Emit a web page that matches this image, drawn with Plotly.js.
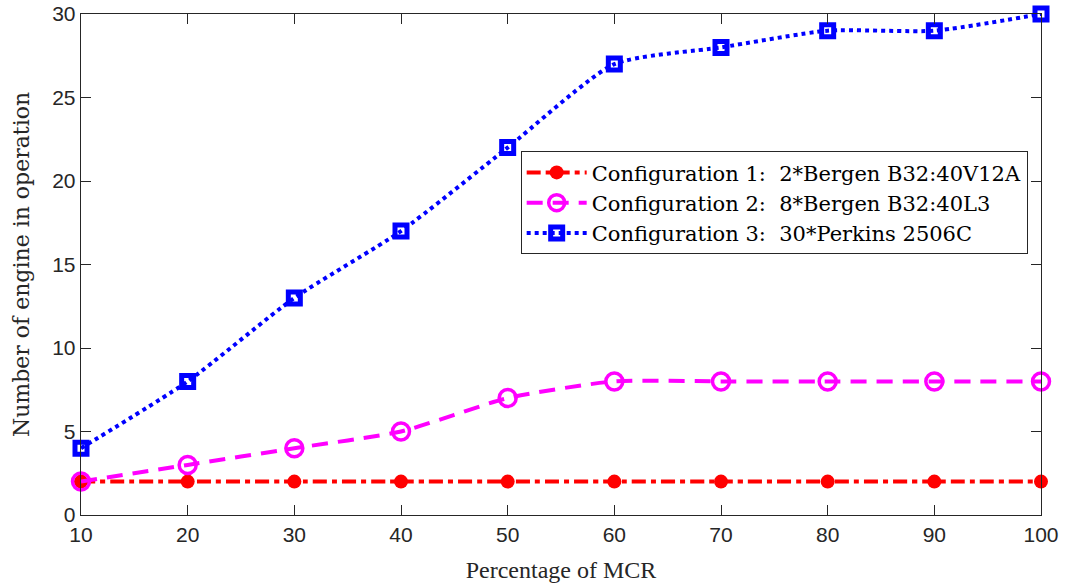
<!DOCTYPE html>
<html>
<head>
<meta charset="utf-8">
<script src="https://cdn.plot.ly/plotly-3.0.1.min.js"></script>
<style>html,body{margin:0;padding:0;background:#fff;}#chart{width:1066px;height:588px;}</style>
</head>
<body>
<div id="chart"></div>
<script>
const mcr = [10, 20, 30, 40, 50, 60, 70, 80, 90, 100];
const config1 = [2, 2, 2, 2, 2, 2, 2, 2, 2, 2];
const config2 = [2, 3, 4, 5, 7, 8, 8, 8, 8, 8];
const config3 = [4, 8, 13, 17, 22, 27, 28, 29, 29, 30];
const names = [
  'Configuration 1:  2*Bergen B32:40V12A',
  'Configuration 2:  8*Bergen B32:40L3',
  'Configuration 3:  30*Perkins 2506C'
];

const traces = [
  {x: mcr, y: config1, name: names[0], mode: 'lines+markers', cliponaxis: false,
   line: {color: '#ff0000', width: 4, dash: '14px,5px,5px,5px', shape: 'spline', smoothing: 0.6},
   marker: {symbol: 'circle', size: 14, color: '#ff0000'}},
  {x: mcr, y: config2, name: names[1], mode: 'lines+markers', cliponaxis: false,
   line: {color: '#ff00ff', width: 4, dash: '16px,10px', shape: 'spline', smoothing: 0.6},
   marker: {symbol: 'circle-open', size: 17, color: '#ff00ff', line: {width: 3.5, color: '#ff00ff'}}},
  {x: mcr, y: config3, name: names[2], mode: 'lines+markers', cliponaxis: false,
   line: {color: '#0000ff', width: 4, dash: '4px,4px', shape: 'spline', smoothing: 0.6},
   marker: {symbol: 'square-open', size: 12, color: '#0000ff', line: {width: 5, color: '#0000ff'}}}
];

const axisCommon = {
  showline: true, linecolor: '#262626', linewidth: 1.3, mirror: 'ticks',
  ticks: 'inside', ticklen: 10, tickwidth: 1, tickcolor: '#262626',
  showgrid: false, zeroline: false,
  tickfont: {family: 'Liberation Sans, Arial, sans-serif', size: 21, color: '#262626'}
};

const layout = {
  width: 1066, height: 588,
  margin: {l: 81, r: 25, t: 14, b: 73},
  paper_bgcolor: '#ffffff', plot_bgcolor: '#ffffff',
  showlegend: true,
  xaxis: Object.assign({}, axisCommon, {
    range: [10, 100], tickvals: mcr, ticktext: mcr.map(String),
    title: {text: 'Percentage of MCR', standoff: 16,
      font: {family: 'Liberation Serif, Times New Roman, serif', size: 24, color: '#262626'}}
  }),
  yaxis: Object.assign({}, axisCommon, {
    range: [0, 30], tickvals: [0, 5, 10, 15, 20, 25, 30],
    title: {text: 'Number of engine in operation', standoff: 16,
      font: {family: 'DejaVu Serif, serif', size: 22, color: '#262626'}}
  }),
  legend: {
    x: 0.458, y: 0.726, xanchor: 'left', yanchor: 'top',
    bgcolor: '#ffffff', bordercolor: '#262626', borderwidth: 1,
    font: {family: 'DejaVu Serif, serif', size: 21, color: '#000000'},
    tracegroupgap: 0, itemwidth: 60
  }
};

Plotly.newPlot('chart', traces, layout, {displayModeBar: false, staticPlot: true});
</script>
</body>
</html>
